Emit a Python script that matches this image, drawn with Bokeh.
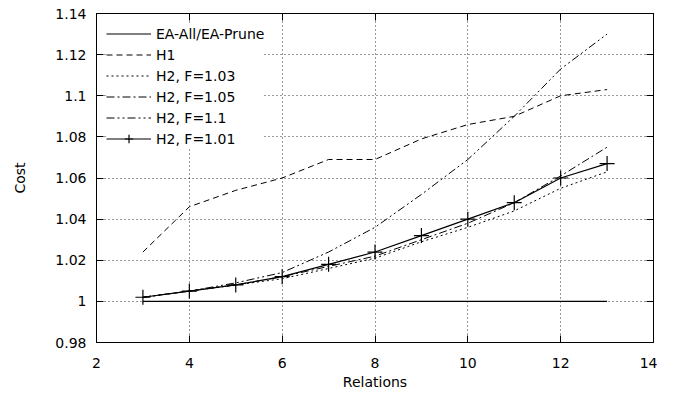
from bokeh.plotting import figure
from bokeh.models import (LinearAxis, FixedTicker, CustomJSTickFormatter, Legend, LegendItem, Range1d)
from bokeh.embed import file_html
from bokeh.resources import INLINE

relations = [3, 4, 5, 6, 7, 8, 9, 10, 11, 12, 13]
ea_all = [1.0, 1.0, 1.0, 1.0, 1.0, 1.0, 1.0, 1.0, 1.0, 1.0, 1.0]
h1 = [1.024, 1.046, 1.054, 1.060, 1.069, 1.069, 1.079, 1.086, 1.090, 1.100, 1.103]
h2_f103 = [1.002, 1.005, 1.008, 1.011, 1.016, 1.021, 1.029, 1.036, 1.044, 1.055, 1.063]
h2_f105 = [1.002, 1.005, 1.008, 1.012, 1.017, 1.022, 1.030, 1.038, 1.048, 1.061, 1.075]
h2_f11 = [1.002, 1.005, 1.009, 1.014, 1.024, 1.036, 1.052, 1.069, 1.090, 1.113, 1.130]
h2_f101 = [1.002, 1.005, 1.008, 1.012, 1.018, 1.024, 1.032, 1.040, 1.048, 1.060, 1.067]

x_ticks = [2, 4, 6, 8, 10, 12, 14]
y_ticks = [0.98, 1.0, 1.02, 1.04, 1.06, 1.08, 1.1, 1.12, 1.14]

FONT = "DejaVu Sans"

p = figure(frame_width=557, frame_height=329, output_backend="svg", toolbar_location=None,
           x_range=Range1d(2, 14), y_range=Range1d(0.98, 1.14),
           min_border_left=96, min_border_right=4, min_border_top=13, min_border_bottom=44)
p.outline_line_color = "black"
p.outline_line_width = 1
p.background_fill_color = "white"
p.border_fill_color = "white"

fmt = CustomJSTickFormatter(code="return String(parseFloat(tick.toFixed(2)));")
blank = CustomJSTickFormatter(code="return '';")

def style_axis(ax, labels=True):
    ax.major_tick_in = 7
    ax.major_tick_out = 0
    ax.minor_tick_in = 0
    ax.minor_tick_out = 0
    ax.axis_line_color = "black"
    ax.major_tick_line_color = "black"
    ax.major_label_text_font = FONT
    ax.major_label_text_font_size = "14px"
    ax.major_label_text_color = "black"
    ax.axis_label_text_font = FONT
    ax.axis_label_text_font_size = "14px"
    ax.axis_label_text_font_style = "normal"
    ax.axis_label_text_color = "black"
    if not labels:
        ax.major_label_standoff = 0

p.xaxis.ticker = FixedTicker(ticks=x_ticks)
p.yaxis.ticker = FixedTicker(ticks=y_ticks)
p.yaxis.formatter = fmt
p.xaxis.formatter = fmt
style_axis(p.xaxis[0])
style_axis(p.yaxis[0])
p.xaxis.axis_label = "Relations"
p.yaxis.axis_label = "Cost"
p.xaxis.major_label_standoff = 15
p.yaxis.major_label_standoff = 10
p.xaxis.axis_label_standoff = 3
p.yaxis.axis_label_standoff = 24

top = LinearAxis(ticker=FixedTicker(ticks=x_ticks), formatter=blank)
right = LinearAxis(ticker=FixedTicker(ticks=y_ticks), formatter=blank)
style_axis(top, labels=False)
style_axis(right, labels=False)
p.add_layout(top, "above")
p.add_layout(right, "right")

for g in (p.xgrid[0], p.ygrid[0]):
    g.grid_line_color = "black"
    g.grid_line_dash = "1 3"
    g.grid_line_width = 1
    g.grid_line_alpha = 0.8
p.xgrid.ticker = FixedTicker(ticks=x_ticks[1:-1])
p.ygrid.ticker = FixedTicker(ticks=y_ticks[1:-1])

r_ea = p.line(relations, ea_all, line_color="black", line_width=1.2)
r_h1 = p.line(relations, h1, line_color="black", line_width=1, line_dash="6 4")
r_103 = p.line(relations, h2_f103, line_color="black", line_width=1, line_dash="2 3")
r_105 = p.line(relations, h2_f105, line_color="black", line_width=1, line_dash="8 3 2 3")
r_11 = p.line(relations, h2_f11, line_color="black", line_width=1, line_dash="8 3 2 3 2 3")
r_101 = p.line(relations, h2_f101, line_color="black", line_width=1.2)
r_101m = p.scatter(relations, h2_f101, marker="cross", size=15, line_color="black", line_width=1.2)

legend = Legend(items=[
    LegendItem(label="EA-All/EA-Prune", renderers=[r_ea]),
    LegendItem(label="H1", renderers=[r_h1]),
    LegendItem(label="H2, F=1.03", renderers=[r_103]),
    LegendItem(label="H2, F=1.05", renderers=[r_105]),
    LegendItem(label="H2, F=1.1", renderers=[r_11]),
    LegendItem(label="H2, F=1.01", renderers=[r_101, r_101m]),
], location="top_left")
legend.label_text_font = FONT
legend.label_text_font_size = "14px"
legend.label_text_color = "black"
legend.glyph_width = 45
legend.glyph_height = 21
legend.label_height = 21
legend.spacing = 0
legend.padding = 2
legend.margin = 10
legend.border_line_color = None
legend.background_fill_color = "white"
legend.background_fill_alpha = 1.0
p.add_layout(legend, "center")

open("out.html", "w").write(file_html(p, INLINE))
